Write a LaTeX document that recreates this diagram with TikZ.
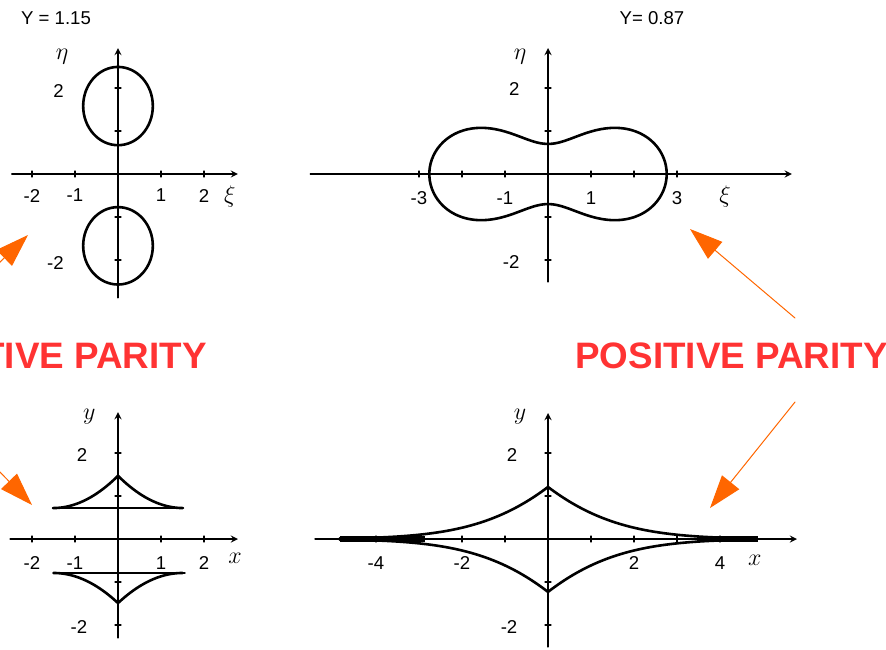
\documentclass[tikz,border=0pt]{standalone}
\usepackage{fontspec}
\newfontfamily\labfont{Liberation Sans}
\usetikzlibrary{arrows.meta}
\definecolor{parred}{HTML}{FF3333}
\definecolor{parorange}{HTML}{FF6600}
\begin{document}
\begin{tikzpicture}[x=0.5pt,y=-0.5pt,line join=round,line cap=round,>=stealth,
    font=\labfont\fontsize{9.3}{11}\selectfont,
    unit/.style={x=21.5pt,y=21.5pt},
    axis/.style={->,line width=0.6pt},
    tick/.style={line width=0.6pt},
    curve/.style={line width=1.3pt},
    varlab/.style={font=\fontsize{13}{15}\selectfont},
    greeklab/.style={font=\fontsize{11.5}{13}\selectfont},
    parity/.style={font=\labfont\bfseries\fontsize{18.4}{20}\selectfont,text=parred,inner sep=0pt},
    pointer/.style={-{Triangle[length=16.5pt,width=11pt]},draw=parorange,line width=0.5pt}]
  \useasboundingbox (0,0) rectangle (886,649);
  \clip (0,0) rectangle (886,649);
  \node (gam1) at (56,18) {Y = 1.15};
  \node (gam2) at (652,18) {Y= 0.87};
  \begin{scope}[shift={(118,174)},unit]
    \draw[axis] (-2.47,0) -- (2.79,0);
    \draw[axis] (0,-2.88) -- (0,2.93);
    \foreach \t in {-2,-1,1,2}{
      \draw[tick] (\t,-0.07) -- (\t,0.07);
      \draw[tick] (-0.07,\t) -- (0.07,\t);}
    \draw[curve] (0,1.58) ellipse [x radius=0.81,y radius=0.91];
    \draw[curve] (0,-1.67) ellipse [x radius=0.81,y radius=0.9];
    \foreach \t [count=\i] in {-2,-1,1,2}
      \node (tlx\i) at (\t,-0.5) {\t};
    \node[anchor=east] (tly1) at (-1.1,1.93) {2};
    \node[anchor=east] (tly2) at (-1.1,-2.06) {-2};
    \node[greeklab] (tleta) at (-1.3,2.72) {$\eta$};
    \node[greeklab] (tlxi) at (2.6,-0.53) {$\xi$};
  \end{scope}
  \begin{scope}[shift={(548,174)},unit]
    \draw[axis] (-5.53,0) -- (5.67,0);
    \draw[axis] (0,-2.51) -- (0,2.93);
    \foreach \t in {-3,-2,-1,1,2,3}
      \draw[tick] (\t,-0.07) -- (\t,0.07);
    \foreach \t in {-2,-1,1,2}
      \draw[tick] (-0.07,\t) -- (0.07,\t);
    \draw[curve] plot[domain=0:360,samples=180,smooth cycle]
      (\x:{sqrt(3.565*cos(2*\x)+sqrt(12.71*cos(2*\x)^2+3.73))});
    \foreach \t [count=\i] in {-3,-1,1,3}
      \node (trx\i) at (\t,-0.55) {\t};
    \node[anchor=east] (try1) at (-0.5,1.98) {2};
    \node[anchor=east] (try2) at (-0.5,-2.05) {-2};
    \node[greeklab] (treta) at (-0.65,2.72) {$\eta$};
    \node[greeklab] (trxi) at (4.12,-0.53) {$\xi$};
  \end{scope}
  \begin{scope}[shift={(118,539)},unit]
    \draw[axis] (-2.51,0) -- (2.79,0);
    \draw[axis] (0,-2.3) -- (0,2.95);
    \foreach \t in {-2,-1,1,2}{
      \draw[tick] (\t,-0.07) -- (\t,0.07);
      \draw[tick] (-0.07,\t) -- (0.07,\t);}
    \draw[curve] (-1.51,0.72) -- (1.51,0.72);
    \draw[curve] plot[domain=-1.51:1.51,samples=81] (\x,{0.72+0.75*(1-abs(\x)/1.51)^2});
    \draw[curve] (-1.48,-0.79) -- (1.55,-0.79);
    \draw[curve] plot[domain=-1.5:1.5,samples=81] (\x,{-0.79-0.7*(1-abs(\x)/1.5)^2});
    \foreach \t [count=\i] in {-2,-1,1,2}
      \node (blx\i) at (\t,-0.55) {\t};
    \node[anchor=east] (bly1) at (-0.55,1.95) {2};
    \node[anchor=east] (bly2) at (-0.55,-2.05) {-2};
    \node[varlab] (bly) at (-0.67,2.84) {$y$};
    \node[varlab] (blxx) at (2.72,-0.46) {$x$};
  \end{scope}
  \begin{scope}[shift={(548,539)},unit]
    \draw[axis] (-5.42,0) -- (5.79,0);
    \draw[axis] (0,-2.51) -- (0,2.93);
    \foreach \t in {-4,-3,-2,-1,1,2,3,4}
      \draw[tick] (\t,-0.07) -- (\t,0.07);
    \foreach \t in {-2,-1,1,2}
      \draw[tick] (-0.07,\t) -- (0.07,\t);
    \fill (-4.84,-0.06) rectangle (-2.85,0.06);
    \fill (3.47,-0.06) rectangle (4.88,0.06);
    \draw[curve] plot[domain=-4.85:4.85,samples=161] (\x,{1.21*exp(-abs(\x)/1.6-(\x/3.8)^2)});
    \draw[curve] plot[domain=-4.85:4.85,samples=161] (\x,{-1.23*exp(-abs(\x)/1.6-(\x/3.8)^2)});
    \foreach \t [count=\i] in {-4,-2,2,4}
      \node (brx\i) at (\t,-0.55) {\t};
    \node[anchor=east] (bry1) at (-0.55,1.95) {2};
    \node[anchor=east] (bry2) at (-0.55,-2.05) {-2};
    \node[varlab] (bry) at (-0.65,2.84) {$y$};
    \node[varlab] (brxx) at (4.81,-0.5) {$x$};
  \end{scope}
  \node[parity,anchor=base east] (neg) at (207,368) {TIVE PARITY};
  \node[parity,anchor=base west] (pos) at (575,368) {POSITIVE PARITY};
  \coordinate (negup) at (-60,320);
  \coordinate (negdown) at (-70,400);
  \coordinate (posup) at (795,318);
  \coordinate (posdown) at (795,402);
  \coordinate (tltip) at (28,235);
  \coordinate (bltip) at (32,505);
  \coordinate (trtip) at (690,229);
  \coordinate (brtip) at (710,508);
  \draw[pointer] (negup) -- (tltip);
  \draw[pointer] (negdown) -- (bltip);
  \draw[pointer] (posup) -- (trtip);
  \draw[pointer] (posdown) -- (brtip);
\end{tikzpicture}
\end{document}
